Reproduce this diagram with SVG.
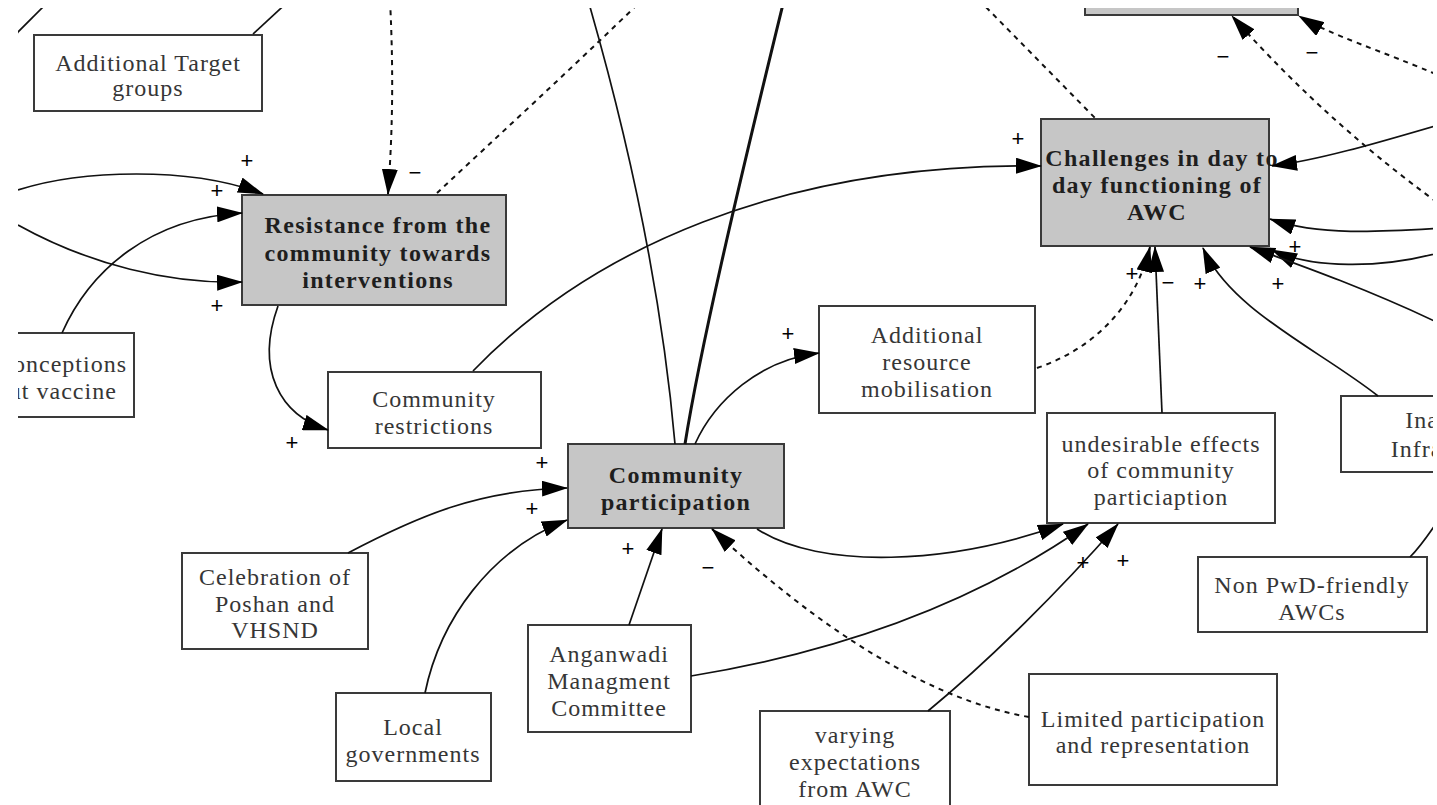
<svg xmlns="http://www.w3.org/2000/svg" width="1437" height="805" viewBox="0 0 1437 805">
  <defs>
    <style>
      .box { stroke: #3a3a3a; stroke-width: 2; fill: #ffffff; }
      .key { fill: #c6c6c6; }
      .t { font-family: "Liberation Serif", "Times New Roman", serif; font-size: 24px; letter-spacing: 1px; fill: #363636; text-anchor: middle; }
      .b { font-weight: bold; letter-spacing: 1.3px; fill: #1e1e1e; }
      .edge { fill: none; stroke: #111111; stroke-width: 1.7; }
      .thick { stroke-width: 3; }
      .dot { stroke-dasharray: 5 5; stroke-width: 2; }
      .arr { marker-end: url(#head); }
      .sign { font-family: "Liberation Sans", Arial, sans-serif; font-size: 22px; fill: #000000; text-anchor: middle; dominant-baseline: central; }
    </style>
    <marker id="head" viewBox="0 0 26 16" refX="25" refY="8" markerWidth="26" markerHeight="16" markerUnits="userSpaceOnUse" orient="auto">
      <path d="M0,0 L26,8 L0,16 Z" fill="#000000"/>
    </marker>
    <clipPath id="frame">
      <rect x="18" y="8" width="1415" height="797"/>
    </clipPath>
  </defs>

  <rect width="1437" height="805" fill="#ffffff"/>

  <g clip-path="url(#frame)">
    <!-- nodes -->
    <g id="node-top-key">
      <rect class="box key" x="1085" y="-40" width="213" height="55"/>
    </g>
    <g id="node-additional-target">
      <rect class="box" x="34" y="35" width="228" height="76"/>
      <text class="t" x="148" y="71">Additional Target</text>
      <text class="t" x="148" y="96">groups</text>
    </g>
    <g id="node-resistance">
      <rect class="box key" x="242" y="195" width="264" height="110"/>
      <text class="t b" x="378" y="233">Resistance from the</text>
      <text class="t b" x="378" y="261">community towards</text>
      <text class="t b" x="378" y="288">interventions</text>
    </g>
    <g id="node-misconceptions">
      <rect class="box" x="-40" y="333" width="174" height="84"/>
      <text class="t" x="44" y="372">Misconceptions</text>
      <text class="t" x="44" y="399">about vaccine</text>
    </g>
    <g id="node-challenges">
      <rect class="box key" x="1041" y="119" width="228" height="127"/>
      <text class="t b" x="1162" y="166">Challenges in day to</text>
      <text class="t b" x="1157" y="193">day functioning of</text>
      <text class="t b" x="1157" y="220">AWC</text>
    </g>
    <g id="node-community-restrictions">
      <rect class="box" x="328" y="372" width="213" height="76"/>
      <text class="t" x="434" y="407">Community</text>
      <text class="t" x="434" y="434">restrictions</text>
    </g>
    <g id="node-community-participation">
      <rect class="box key" x="568" y="444" width="216" height="84"/>
      <text class="t b" x="676" y="483">Community</text>
      <text class="t b" x="676" y="510">participation</text>
    </g>
    <g id="node-resource-mobilisation">
      <rect class="box" x="819" y="306" width="216" height="107"/>
      <text class="t" x="927" y="343">Additional</text>
      <text class="t" x="927" y="370">resource</text>
      <text class="t" x="927" y="397">mobilisation</text>
    </g>
    <g id="node-undesirable-effects">
      <rect class="box" x="1047" y="413" width="228" height="110"/>
      <text class="t" x="1161" y="452">undesirable effects</text>
      <text class="t" x="1161" y="478">of community</text>
      <text class="t" x="1161" y="505">particiaption</text>
    </g>
    <g id="node-infrastructure">
      <rect class="box" x="1341" y="396" width="240" height="76"/>
      <text class="t" x="1463" y="428">Inadequate</text>
      <text class="t" x="1463" y="457">Infrastructure</text>
    </g>
    <g id="node-non-pwd">
      <rect class="box" x="1198" y="557" width="229" height="75"/>
      <text class="t" x="1312" y="593">Non PwD-friendly</text>
      <text class="t" x="1312" y="620">AWCs</text>
    </g>
    <g id="node-celebration">
      <rect class="box" x="182" y="553" width="186" height="96"/>
      <text class="t" x="275" y="585">Celebration of</text>
      <text class="t" x="275" y="612">Poshan and</text>
      <text class="t" x="275" y="638">VHSND</text>
    </g>
    <g id="node-local-governments">
      <rect class="box" x="336" y="693" width="155" height="88"/>
      <text class="t" x="413" y="735">Local</text>
      <text class="t" x="413" y="762">governments</text>
    </g>
    <g id="node-anganwadi">
      <rect class="box" x="528" y="625" width="163" height="107"/>
      <text class="t" x="609" y="662">Anganwadi</text>
      <text class="t" x="609" y="689">Managment</text>
      <text class="t" x="609" y="716">Committee</text>
    </g>
    <g id="node-varying-expectations">
      <rect class="box" x="760" y="711" width="190" height="110"/>
      <text class="t" x="855" y="743">varying</text>
      <text class="t" x="855" y="770">expectations</text>
      <text class="t" x="855" y="797">from AWC</text>
    </g>
    <g id="node-limited-participation">
      <rect class="box" x="1029" y="674" width="248" height="111"/>
      <text class="t" x="1153" y="727">Limited participation</text>
      <text class="t" x="1153" y="753">and representation</text>
    </g>

    <!-- connectors -->
    <g id="connectors">
      <path class="edge" d="M10,40 L50,0"/>
      <path class="edge" d="M253,34 L292,-2"/>
      <path class="edge dot arr" d="M390,0 C394,80 392,140 388,194"/>
      <path class="edge dot" d="M437,193 C500,134 570,70 642,0"/>
      <path class="edge arr" d="M18,190 C80,170 190,166 263,194"/>
      <path class="edge arr" d="M18,225 C90,265 170,284 242,282"/>
      <path class="edge arr" d="M62,333 C90,270 150,218 242,213"/>
      <path class="edge arr" d="M278,306 C255,370 280,415 328,430"/>
      <path class="edge arr" d="M473,371 C590,250 780,163 1041,166"/>
      <path class="edge" d="M675,444 C665,330 640,180 588,0"/>
      <path class="edge thick" d="M685,444 C700,350 735,200 784,0"/>
      <path class="edge arr" d="M695,444 C715,400 760,360 819,353"/>
      <path class="edge dot arr" d="M1037,368 C1090,350 1135,310 1150,247"/>
      <path class="edge arr" d="M1162,413 L1155,247"/>
      <path class="edge arr" d="M1378,396 C1320,350 1230,310 1203,248"/>
      <path class="edge arr" d="M1445,123 C1380,142 1320,160 1272,166"/>
      <path class="edge arr" d="M1445,228 C1380,232 1320,236 1270,219"/>
      <path class="edge arr" d="M1445,251 C1380,270 1310,268 1272,250"/>
      <path class="edge arr" d="M1445,326 C1370,290 1300,265 1250,247"/>
      <path class="edge dot" d="M979,0 L1095,118"/>
      <path class="edge dot arr" d="M1445,208 C1350,140 1280,70 1232,16"/>
      <path class="edge dot arr" d="M1445,78 C1380,50 1330,35 1299,16"/>
      <path class="edge arr" d="M348,553 C420,515 480,490 567,488"/>
      <path class="edge arr" d="M425,693 C440,620 490,550 567,520"/>
      <path class="edge arr" d="M629,625 L662,529"/>
      <path class="edge dot arr" d="M1029,717 C930,700 820,630 712,529"/>
      <path class="edge arr" d="M757,529 C820,570 950,565 1063,524"/>
      <path class="edge arr" d="M691,676 C850,650 980,600 1088,524"/>
      <path class="edge arr" d="M928,711 C990,660 1060,590 1118,524"/>
      <path class="edge" d="M1410,557 C1422,545 1432,530 1445,510"/>

      <g id="polarity">
        <text class="sign" x="247" y="160">+</text>
        <text class="sign" x="217" y="190">+</text>
        <text class="sign" x="217" y="305">+</text>
        <text class="sign" x="415" y="172">−</text>
        <text class="sign" x="292" y="442">+</text>
        <text class="sign" x="1018" y="138">+</text>
        <text class="sign" x="788" y="333">+</text>
        <text class="sign" x="1132" y="273">+</text>
        <text class="sign" x="1168" y="282">−</text>
        <text class="sign" x="1200" y="283">+</text>
        <text class="sign" x="1295" y="246">+</text>
        <text class="sign" x="1278" y="283">+</text>
        <text class="sign" x="1223" y="56">−</text>
        <text class="sign" x="1312" y="52">−</text>
        <text class="sign" x="542" y="462">+</text>
        <text class="sign" x="532" y="508">+</text>
        <text class="sign" x="628" y="548">+</text>
        <text class="sign" x="708" y="567">−</text>
        <text class="sign" x="1083" y="562">+</text>
        <text class="sign" x="1123" y="560">+</text>
      </g>
    </g>
  </g>
</svg>
